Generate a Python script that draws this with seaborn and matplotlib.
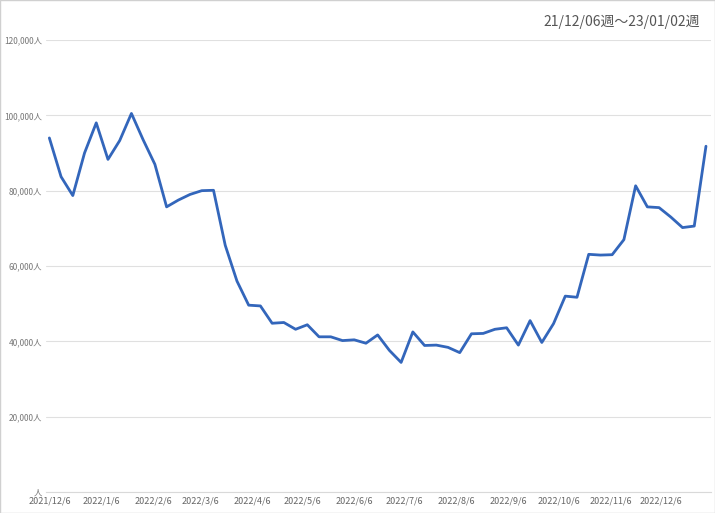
import matplotlib
matplotlib.use("Agg")
import matplotlib.pyplot as plt
import seaborn as sns
import pandas as pd
import numpy as np

values = [94000, 83700, 78700, 90000, 98000, 88300, 93300, 100500, 93500, 87000,
          75700, 77500, 79000, 80000, 80100, 65500, 56000, 49600, 49400, 44800,
          45000, 43200, 44400, 41200, 41200, 40200, 40400, 39500, 41700, 37600,
          34400, 42500, 38900, 39000, 38400, 37000, 42000, 42100, 43200, 43600,
          39000, 45500, 39700, 44700, 52000, 51700, 63100, 62900, 63000, 67000,
          81300, 75700, 75500, 73000, 70200, 70600, 91800]
weeks = pd.date_range("2021-12-06", periods=len(values), freq="7D")
tick_dates = pd.to_datetime(["2021-12-06", "2022-01-06", "2022-02-06", "2022-03-06", "2022-04-06",
                             "2022-05-06", "2022-06-06", "2022-07-06", "2022-08-06", "2022-09-06",
                             "2022-10-06", "2022-11-06", "2022-12-06"])
tick_labels = ["2021/12/6", "2022/1/6", "2022/2/6", "2022/3/6", "2022/4/6", "2022/5/6", "2022/6/6",
               "2022/7/6", "2022/8/6", "2022/9/6", "2022/10/6", "2022/11/6", "2022/12/6"]
title = "21/12/06週～23/01/02週"

sns.set_style("white")
plt.rcParams['font.family'] = ['Noto Sans CJK JP', 'DejaVu Sans']

fig = plt.figure(figsize=(7.15, 5.13), dpi=100)
ax = fig.add_axes([46/715, 21/513, 665/715, 452/513])
df = pd.DataFrame({"week": weeks, "value": values})
sns.lineplot(data=df, x="week", y="value", ax=ax, color="#3366bb", linewidth=2)

ax.set_ylim(0, 120000)
ax.set_yticks(np.arange(0, 120001, 20000))
ax.set_yticklabels([("{:,}人".format(v) if v else "人") for v in range(0, 120001, 20000)],
                   fontsize=6, color="#777777")
ax.set_xlim(weeks[0] - pd.Timedelta(days=2), weeks[-1] + pd.Timedelta(days=3))
ax.set_xticks(tick_dates)
ax.set_xticklabels(tick_labels, fontsize=6.5, color="#666666")
ax.tick_params(length=0, pad=3)
ax.yaxis.grid(True, color="#e0e0e0", linewidth=0.8)
ax.set_xlabel("")
ax.set_ylabel("")
for s in ["top", "right", "left"]:
    ax.spines[s].set_visible(False)
ax.spines["bottom"].set_color("#d9d9d9")
fig.text(700/715, 1 - 22/513, title, ha="right", va="center", fontsize=10, color="#555555")
fig.patches.append(plt.Rectangle((0, 0), 1, 1, transform=fig.transFigure, fill=False,
                                 edgecolor="#d0d0d0", linewidth=1))
fig.savefig("out.png", dpi=100)
